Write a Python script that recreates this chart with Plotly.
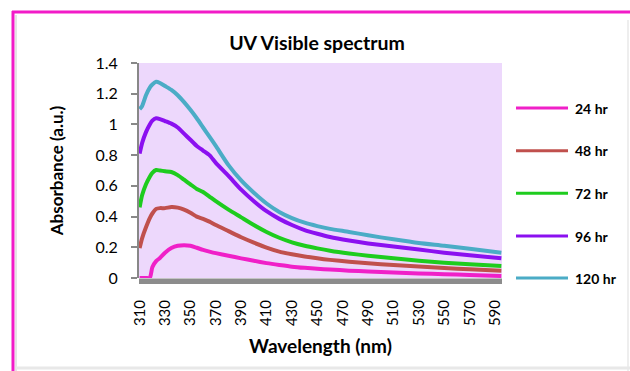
import plotly.graph_objects as go

# Wavelength sampling (nm)
wavelength = [310, 312, 315, 318, 320, 323, 326, 330, 335, 340, 345, 350, 355, 360,
              365, 370, 380, 390, 400, 410, 420, 430, 440, 450, 460, 475, 490,
              510, 530, 550, 570, 595]

# Absorbance (a.u.) for each reaction time
abs_24 = [0.0, 0.0, 0.0, 0.0, 0.07, 0.11, 0.13, 0.165, 0.195, 0.21, 0.213, 0.21, 0.197, 0.183,
          0.172, 0.162, 0.145, 0.128, 0.112, 0.097, 0.085, 0.074, 0.066, 0.06, 0.055, 0.048, 0.042,
          0.036, 0.03, 0.025, 0.02, 0.013]
abs_48 = [0.195, 0.26, 0.33, 0.39, 0.42, 0.45, 0.455, 0.455, 0.462, 0.458, 0.445, 0.425, 0.40, 0.385,
          0.367, 0.345, 0.305, 0.265, 0.23, 0.198, 0.172, 0.155, 0.14, 0.128, 0.118, 0.106, 0.096,
          0.085, 0.075, 0.065, 0.057, 0.048]
abs_72 = [0.46, 0.54, 0.61, 0.66, 0.685, 0.703, 0.70, 0.695, 0.69, 0.67, 0.64, 0.61, 0.58, 0.56,
          0.53, 0.50, 0.445, 0.395, 0.345, 0.30, 0.262, 0.232, 0.21, 0.193, 0.178, 0.16, 0.145,
          0.128, 0.113, 0.10, 0.09, 0.078]
abs_96 = [0.81, 0.88, 0.95, 1.0, 1.025, 1.04, 1.035, 1.022, 1.005, 0.98, 0.94, 0.90, 0.86, 0.83,
          0.80, 0.75, 0.665, 0.575, 0.50, 0.435, 0.385, 0.345, 0.312, 0.288, 0.267, 0.244, 0.225,
          0.205, 0.185, 0.165, 0.148, 0.128]
abs_120 = [1.10, 1.12, 1.19, 1.24, 1.26, 1.278, 1.27, 1.25, 1.225, 1.19, 1.145, 1.095, 1.04, 0.98,
           0.92, 0.86, 0.735, 0.635, 0.555, 0.485, 0.43, 0.39, 0.36, 0.338, 0.32, 0.30, 0.278,
           0.252, 0.228, 0.21, 0.19, 0.165]

series_names = ["24 hr", "48 hr", "72 hr", "96 hr", "120 hr"]
series_values = [abs_24, abs_48, abs_72, abs_96, abs_120]
series_colors = ["#F020C8", "#C0504D", "#1ECC1E", "#8B10F0", "#4BACC6"]

x_ticks = list(range(310, 600, 20))
y_ticks = [0, 0.2, 0.4, 0.6, 0.8, 1.0, 1.2, 1.4]
y_ticklabels = ["0", "0.2", "0.4", "0.6", "0.8", "1", "1.2", "1.4"]

W, H = 630, 371
L, R, T, B = 139, 128, 63, 93
pw, ph = W - L - R, H - T - B


def px_x(px):
    return (px - L) / pw


def px_y(py):
    return (H - B - py) / ph


fig = go.Figure()
for name, vals, col in zip(series_names, series_values, series_colors):
    fig.add_trace(go.Scatter(
        x=wavelength, y=vals, name=name, mode="lines",
        line=dict(color=col, width=4, shape="spline", smoothing=0.6),
        showlegend=False,
    ))

font_main = "Lato, 'Open Sans', sans-serif"

fig.update_layout(
    width=W, height=H,
    margin=dict(l=L, r=R, t=T, b=B, autoexpand=False),
    paper_bgcolor="white",
    plot_bgcolor="#EDD8FC",
    font=dict(family=font_main, color="black", size=14),
    title=dict(text="<b>UV Visible spectrum</b>", x=317 / W, xanchor="center",
               y=1 - 43 / H, yanchor="middle", font=dict(size=19.5)),
    xaxis=dict(
        range=[309.5, 595.5], tickvals=x_ticks, ticktext=[str(v) for v in x_ticks],
        tickangle=-90, ticks="", showgrid=False, zeroline=False, showline=False,
        tickfont=dict(size=15), ticklabelstandoff=18,
        title=dict(text="<b>Wavelength (nm)</b>", font=dict(size=19), standoff=14),
    ),
    yaxis=dict(
        range=[0, 1.4], tickvals=y_ticks, ticktext=y_ticklabels,
        ticks="outside", ticklen=6, tickcolor="#888888", tickwidth=1.5,
        showline=True, linecolor="#888888", linewidth=2,
        showgrid=False, zeroline=False, tickfont=dict(size=16), ticklabelstandoff=10,
        title=dict(text="<b>Absorbance (a.u.)</b>", font=dict(size=17), standoff=28),
    ),
)

# gray floor under the plot area
fig.add_shape(type="rect", xref="paper", yref="paper", x0=0, x1=1,
              y0=px_y(284), y1=px_y(278.5), fillcolor="#8C8C8C", line=dict(width=0),
              layer="below")

# legend: line sample + bold label for each series
legend_y = [108, 150.7, 193.3, 236, 278]
for name, col, ly in zip(series_names, series_colors, legend_y):
    fig.add_shape(type="line", xref="paper", yref="paper",
                  x0=px_x(516), x1=px_x(568), y0=px_y(ly), y1=px_y(ly),
                  line=dict(color=col, width=3))
    fig.add_annotation(text=f"<b>{name}</b>", xref="paper", yref="paper",
                       x=px_x(573), y=px_y(ly), xanchor="left", yanchor="middle",
                       showarrow=False, font=dict(size=14, color="black"))

# outer chart frame (magenta)
fig.add_shape(type="line", xref="paper", yref="paper", x0=px_x(13), x1=px_x(13),
              y0=px_y(11), y1=px_y(H + 2), line=dict(color="#F21BC8", width=3))
fig.add_shape(type="line", xref="paper", yref="paper", x0=px_x(12), x1=px_x(W + 2),
              y0=px_y(12), y1=px_y(12), line=dict(color="#F21BC8", width=3))
# faint shadow lines of the frame
fig.add_shape(type="line", xref="paper", yref="paper", x0=px_x(16), x1=px_x(16),
              y0=px_y(15), y1=px_y(H), line=dict(color="#E4E4E4", width=2))
fig.add_shape(type="line", xref="paper", yref="paper", x0=px_x(628), x1=px_x(628),
              y0=px_y(20), y1=px_y(H), line=dict(color="#EEEEEE", width=2))
fig.add_shape(type="line", xref="paper", yref="paper", x0=px_x(16), x1=px_x(W),
              y0=px_y(368), y1=px_y(368), line=dict(color="#E8E8E8", width=3))

fig.write_html("out.html")
